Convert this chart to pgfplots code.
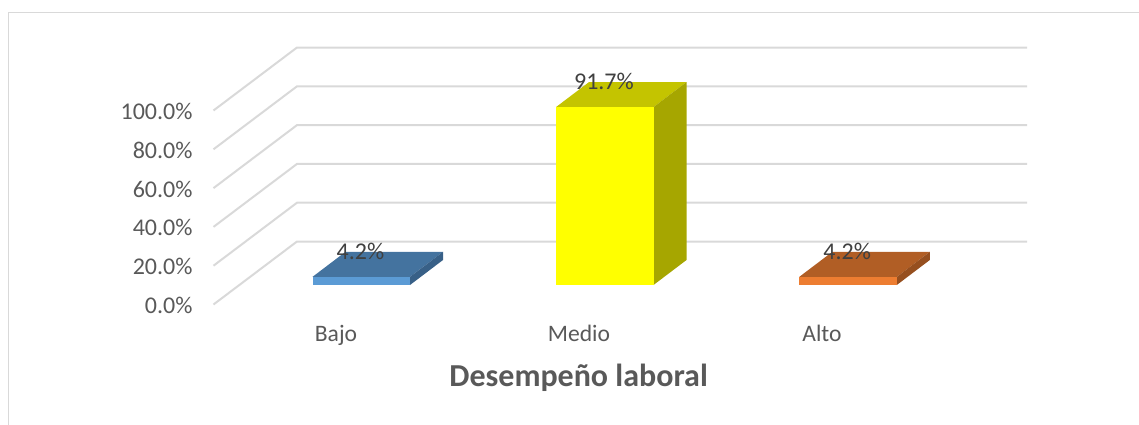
\documentclass[border=0pt]{standalone}
\usepackage{pgfplots}
\pgfplotsset{compat=1.18}
\usepackage{fontspec}
\setmainfont{Carlito}
\definecolor{gridc}{HTML}{D9D9D9}
\definecolor{txt}{HTML}{595959}
\definecolor{lbl}{HTML}{404040}
\begin{document}
\begin{tikzpicture}
\useasboundingbox (0,0) rectangle (1139pt,425pt);
\draw[gridc,line width=1.2pt] (8.5pt,0) -- (8.5pt,412.5pt) -- (1139pt,412.5pt);
% floor and wall grid, with the value ticks
\begin{axis}[
  at={(196pt,0)}, anchor=south west,
  scale only axis, width=943pt, height=425pt,
  xmin=196, xmax=1139, ymin=-62.11, ymax=156.96,
  axis line style={draw=none}, tick style={draw=none},
  xmajorticks=false, axis y line*=left, clip=false,
  ytick={0,20,40,60,80,100},
  yticklabels={0.0\%,20.0\%,40.0\%,60.0\%,80.0\%,100.0\%},
  yticklabel style={font=\fontsize{24}{24}\selectfont, text=txt, anchor=east, yshift=-1pt},
]
\addplot[gridc,line width=2pt,mark=none] coordinates {(213.5,0)(297,32.47)(1027,32.47)};
\addplot[gridc,line width=2pt,mark=none] coordinates {(213.5,20)(297,52.47)(1027,52.47)};
\addplot[gridc,line width=2pt,mark=none] coordinates {(213.5,40)(297,72.47)(1027,72.47)};
\addplot[gridc,line width=2pt,mark=none] coordinates {(213.5,60)(297,92.47)(1027,92.47)};
\addplot[gridc,line width=2pt,mark=none] coordinates {(213.5,80)(297,112.47)(1027,112.47)};
\addplot[gridc,line width=2pt,mark=none] coordinates {(213.5,100)(297,132.47)(1027,132.47)};
\end{axis}
% bars
\begin{axis}[
  at={(0,0)}, anchor=south west,
  scale only axis, width=1139pt, height=425pt,
  xmin=0, xmax=1139, ymin=-72.16, ymax=146.91,
  axis line style={draw=none}, tick style={draw=none},
  ymajorticks=false, clip=false,
  xtick={336,579,822},
  xticklabels={Bajo,Medio,Alto},
  xticklabel style={font=\fontsize{23.6}{23.6}\selectfont, text=txt, anchor=base, yshift=83pt},
  xlabel={\textbf{Desempeño laboral}},
  xlabel style={at={(axis description cs:0.508,0.11)}, anchor=center, font=\fontsize{32}{32}\selectfont, text=txt},
  bar width=97.5, bar shift=0pt,
]
% top faces
\addplot[draw=none,fill={rgb,255:red,68;green,115;blue,159}] coordinates {(312.5,4.2)(410,4.2)(443,17.09)(345.5,17.09)} -- cycle;
\addplot[draw=none,fill={rgb,255:red,196;green,196;blue,0}] coordinates {(556,91.7)(653.5,91.7)(686.5,104.59)(589,104.59)} -- cycle;
\addplot[draw=none,fill={rgb,255:red,177;green,94;blue,37}] coordinates {(799.3,4.2)(896.8,4.2)(929.8,17.09)(832.3,17.09)} -- cycle;
% side faces
\addplot[draw=none,fill={rgb,255:red,56;green,96;blue,135}] coordinates {(410,0)(443,12.89)(443,17.09)(410,4.2)} -- cycle;
\addplot[draw=none,fill={rgb,255:red,166;green,166;blue,0}] coordinates {(653.5,0)(686.5,12.89)(686.5,104.59)(653.5,91.7)} -- cycle;
\addplot[draw=none,fill={rgb,255:red,150;green,79;blue,31}] coordinates {(896.8,0)(929.8,12.89)(929.8,17.09)(896.8,4.2)} -- cycle;
% front faces
\pgfplotsset{
  nodes near coords={\pgfmathprintnumber[fixed,precision=1,zerofill,assume math mode=true]{\pgfplotspointmeta}\%},
  every node near coord/.append style={font=\fontsize{24}{24}\selectfont, text=lbl, anchor=center, yshift=25.2pt, xshift=-0.8pt},
}
\addplot[ybar,draw=none,fill={rgb,255:red,91;green,155;blue,213}] coordinates {(361.25,4.2)};
\addplot[ybar,draw=none,fill={rgb,255:red,255;green,255;blue,0}] coordinates {(604.75,91.7)};
\addplot[ybar,draw=none,fill={rgb,255:red,237;green,125;blue,49}] coordinates {(848.05,4.2)};
\end{axis}
\end{tikzpicture}
\end{document}
